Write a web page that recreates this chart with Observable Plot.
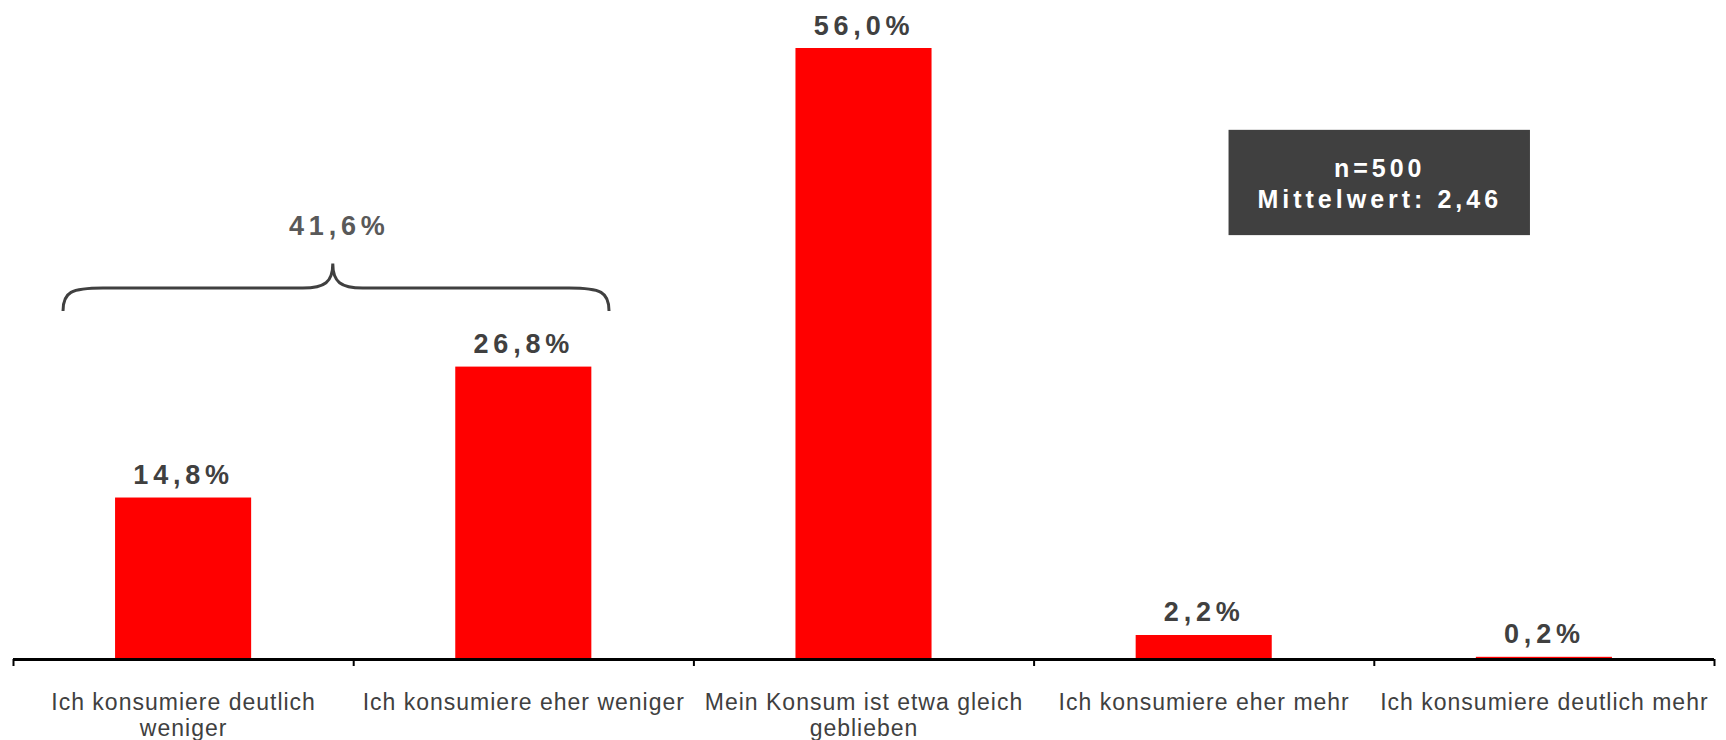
<!DOCTYPE html>
<html><head><meta charset="utf-8">
<script src="https://cdn.jsdelivr.net/npm/d3@7"></script>
<script src="https://cdn.jsdelivr.net/npm/@observablehq/plot@0.6"></script>
<style>
body{margin:0;background:#fff}
</style>
</head><body><div id="chart"></div>
<script>
const categories = ["Ich konsumiere deutlich\nweniger", "Ich konsumiere eher weniger", "Mein Konsum ist etwa gleich\ngeblieben", "Ich konsumiere eher mehr", "Ich konsumiere deutlich mehr"];
const values = [14.8, 26.8, 56.0, 2.2, 0.2];
const valueLabels = ["14,8%", "26,8%", "56,0%", "2,2%", "0,2%"];
const braceGroup = [0, 1];
const braceLabel = "41,6%";
const boxLines = ["n=500", "Mittelwert: 2,46"];

const rows = categories.map((c, i) => ({i, c, v: values[i], label: valueLabels[i]}));
const FONT = "'Liberation Sans', Arial, sans-serif";

// brace geometry (data units)
const bx0 = braceGroup[0] + 0.147, bx1 = braceGroup[1] + 0.752, btip = 0.94;
const byEnd = 31.9, byLine = 34.0, byPeak = 36.25, byLabel = 38.9;

const braceMark = (index, scales, values, dims, ctx) => {
  const x = scales.x, y = scales.y;
  const X0 = x(bx0), X1 = x(bx1), T = x(btip);
  const YE = y(byEnd), YL = y(byLine), YP = y(byPeak);
  const r = 40, rt = 30;
  const p = `M${X0},${YE} C${X0},${YL + 4} ${X0 + 8},${YL} ${X0 + r},${YL} L${T - rt},${YL} C${T - 8},${YL} ${T},${YL - 6} ${T},${YP} C${T},${YL - 6} ${T + 8},${YL} ${T + rt},${YL} L${X1 - r},${YL} C${X1 - 8},${YL} ${X1},${YL + 4} ${X1},${YE}`;
  return d3.create("svg:path").attr("d", p).attr("fill", "none").attr("stroke", "#404040").attr("stroke-width", 3).node();
};

const box = [{x1: 3.573, x2: 4.459, y1: 38.85, y2: 48.5, text: boxLines.join("\n")}];

const plot = Plot.plot({
  width: 1726, height: 740,
  marginTop: 48, marginBottom: 81, marginLeft: 13, marginRight: 12,
  x: {domain: [0, 5], axis: null},
  y: {domain: [0, 56], axis: null},
  style: {fontFamily: FONT, background: "#fff"},
  marks: [
    Plot.rectY(rows, {x1: d => d.i + 0.3, x2: d => d.i + 0.7, y1: 0, y2: "v", fill: "#ff0000"}),
    Plot.ruleY([0], {stroke: "#000", strokeWidth: 3}),
    Plot.axisX({ticks: d3.range(categories.length + 1), tickFormat: () => "", tickSize: 7, stroke: "#000", strokeWidth: 2}),
    Plot.text(rows, {x: d => d.i + 0.5, y: "v", text: "label", lineAnchor: "bottom", dy: -14, fontSize: 27, fontWeight: "bold", fill: "#404040", fontFamily: FONT}),
    Plot.text(rows, {x: d => d.i + 0.5, y: 0, text: "c", lineAnchor: "top", dy: 32.5, fontSize: 23, lineHeight: 26 / 23, fill: "#404040", fontFamily: FONT}),
    braceMark,
    Plot.text([braceLabel], {x: btip, y: byLabel, text: d => d, lineAnchor: "bottom", dx: 6, fontSize: 27, fontWeight: "bold", fill: "#595959", fontFamily: FONT}),
    Plot.rect(box, {x1: "x1", x2: "x2", y1: "y1", y2: "y2", fill: "#404040"}),
    Plot.text(box, {x: d => (d.x1 + d.x2) / 2, y: d => (d.y1 + d.y2) / 2, text: "text", fontSize: 25, lineHeight: 31 / 25, fontWeight: "bold", fill: "#fff", fontFamily: FONT})
  ]
});
// letter spacing per text mark (in mark order)
const spacing = ["4.8px", "1px", "4.8px", "4px"];
plot.querySelectorAll('g[aria-label="text"]').forEach((g, k) => {
  if (spacing[k]) g.style.letterSpacing = spacing[k];
});
document.getElementById("chart").appendChild(plot);
</script>
</body></html>
